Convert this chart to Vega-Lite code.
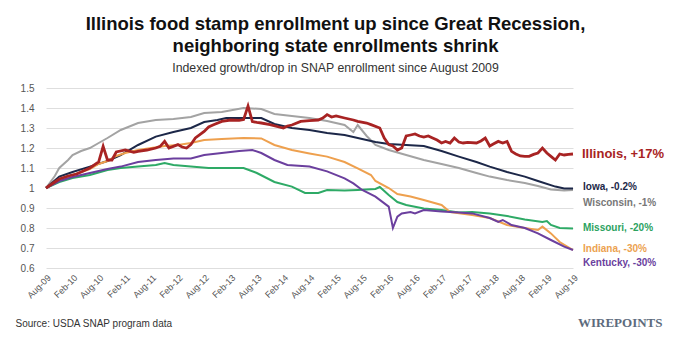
{
"$schema": "https://vega.github.io/schema/vega-lite/v6.json",
"width": 527, "height": 180,
"autosize": {"type": "none"},
"padding": {"left": 46, "top": 88, "right": 101, "bottom": 81},
"background": "white",
"config": {"view": {"stroke": null}, "font": "Liberation Sans"},
"title": {"text": ["Illinois food stamp enrollment up since Great Recession,", "neighboring state enrollments shrink"], "subtitle": "Indexed growth/drop in SNAP enrollment since August 2009", "anchor": "middle", "frame": "group", "dx": 26, "offset": 9, "font": "Liberation Sans", "fontSize": 18.5, "fontWeight": "bold", "lineHeight": 22, "color": "#111111", "subtitleFont": "Liberation Sans", "subtitleFontSize": 12.3, "subtitleColor": "#333333", "subtitlePadding": 6},
"datasets": {
"series": [
{"state":"Wisconsin","date":"2009-08-01","value":1.00},
{"state":"Wisconsin","date":"2009-10-01","value":1.06},
{"state":"Wisconsin","date":"2009-11-01","value":1.10},
{"state":"Wisconsin","date":"2010-01-01","value":1.14},
{"state":"Wisconsin","date":"2010-02-01","value":1.165},
{"state":"Wisconsin","date":"2010-04-01","value":1.185},
{"state":"Wisconsin","date":"2010-06-01","value":1.20},
{"state":"Wisconsin","date":"2010-08-01","value":1.225},
{"state":"Wisconsin","date":"2010-10-01","value":1.25},
{"state":"Wisconsin","date":"2011-01-01","value":1.29},
{"state":"Wisconsin","date":"2011-05-01","value":1.325},
{"state":"Wisconsin","date":"2011-09-01","value":1.34},
{"state":"Wisconsin","date":"2012-01-01","value":1.345},
{"state":"Wisconsin","date":"2012-05-01","value":1.355},
{"state":"Wisconsin","date":"2012-08-01","value":1.375},
{"state":"Wisconsin","date":"2012-12-01","value":1.38},
{"state":"Wisconsin","date":"2013-05-01","value":1.40},
{"state":"Wisconsin","date":"2013-09-01","value":1.395},
{"state":"Wisconsin","date":"2013-12-01","value":1.37},
{"state":"Wisconsin","date":"2014-04-01","value":1.36},
{"state":"Wisconsin","date":"2014-08-01","value":1.35},
{"state":"Wisconsin","date":"2014-12-01","value":1.335},
{"state":"Wisconsin","date":"2015-04-01","value":1.315},
{"state":"Wisconsin","date":"2015-06-01","value":1.28},
{"state":"Wisconsin","date":"2015-07-01","value":1.315},
{"state":"Wisconsin","date":"2015-09-01","value":1.26},
{"state":"Wisconsin","date":"2015-11-01","value":1.215},
{"state":"Wisconsin","date":"2016-02-01","value":1.19},
{"state":"Wisconsin","date":"2016-06-01","value":1.165},
{"state":"Wisconsin","date":"2016-10-01","value":1.14},
{"state":"Wisconsin","date":"2017-02-01","value":1.12},
{"state":"Wisconsin","date":"2017-06-01","value":1.10},
{"state":"Wisconsin","date":"2017-10-01","value":1.075},
{"state":"Wisconsin","date":"2018-01-01","value":1.057},
{"state":"Wisconsin","date":"2018-05-01","value":1.04},
{"state":"Wisconsin","date":"2018-09-01","value":1.025},
{"state":"Wisconsin","date":"2018-12-01","value":1.01},
{"state":"Wisconsin","date":"2019-03-01","value":0.993},
{"state":"Wisconsin","date":"2019-06-01","value":0.988},
{"state":"Wisconsin","date":"2019-08-01","value":0.99},
{"state":"Iowa","date":"2009-08-01","value":1.00},
{"state":"Iowa","date":"2009-11-01","value":1.057},
{"state":"Iowa","date":"2010-02-01","value":1.08},
{"state":"Iowa","date":"2010-06-01","value":1.107},
{"state":"Iowa","date":"2010-10-01","value":1.135},
{"state":"Iowa","date":"2011-01-01","value":1.165},
{"state":"Iowa","date":"2011-05-01","value":1.215},
{"state":"Iowa","date":"2011-09-01","value":1.257},
{"state":"Iowa","date":"2012-01-01","value":1.28},
{"state":"Iowa","date":"2012-05-01","value":1.30},
{"state":"Iowa","date":"2012-08-01","value":1.33},
{"state":"Iowa","date":"2012-11-01","value":1.34},
{"state":"Iowa","date":"2013-01-01","value":1.35},
{"state":"Iowa","date":"2013-05-01","value":1.35},
{"state":"Iowa","date":"2013-09-01","value":1.35},
{"state":"Iowa","date":"2013-12-01","value":1.32},
{"state":"Iowa","date":"2014-04-01","value":1.30},
{"state":"Iowa","date":"2014-08-01","value":1.29},
{"state":"Iowa","date":"2014-12-01","value":1.275},
{"state":"Iowa","date":"2015-04-01","value":1.265},
{"state":"Iowa","date":"2015-08-01","value":1.245},
{"state":"Iowa","date":"2015-11-01","value":1.23},
{"state":"Iowa","date":"2016-02-01","value":1.22},
{"state":"Iowa","date":"2016-06-01","value":1.215},
{"state":"Iowa","date":"2016-10-01","value":1.21},
{"state":"Iowa","date":"2017-02-01","value":1.185},
{"state":"Iowa","date":"2017-06-01","value":1.157},
{"state":"Iowa","date":"2017-10-01","value":1.13},
{"state":"Iowa","date":"2018-01-01","value":1.107},
{"state":"Iowa","date":"2018-05-01","value":1.08},
{"state":"Iowa","date":"2018-09-01","value":1.057},
{"state":"Iowa","date":"2018-12-01","value":1.035},
{"state":"Iowa","date":"2019-04-01","value":1.007},
{"state":"Iowa","date":"2019-06-01","value":0.998},
{"state":"Iowa","date":"2019-08-01","value":0.998},
{"state":"Missouri","date":"2009-08-01","value":1.00},
{"state":"Missouri","date":"2009-11-01","value":1.03},
{"state":"Missouri","date":"2010-02-01","value":1.05},
{"state":"Missouri","date":"2010-06-01","value":1.065},
{"state":"Missouri","date":"2010-10-01","value":1.09},
{"state":"Missouri","date":"2011-01-01","value":1.10},
{"state":"Missouri","date":"2011-05-01","value":1.107},
{"state":"Missouri","date":"2011-09-01","value":1.115},
{"state":"Missouri","date":"2011-11-01","value":1.125},
{"state":"Missouri","date":"2012-01-01","value":1.115},
{"state":"Missouri","date":"2012-05-01","value":1.107},
{"state":"Missouri","date":"2012-09-01","value":1.10},
{"state":"Missouri","date":"2013-01-01","value":1.10},
{"state":"Missouri","date":"2013-05-01","value":1.10},
{"state":"Missouri","date":"2013-08-01","value":1.075},
{"state":"Missouri","date":"2013-12-01","value":1.03},
{"state":"Missouri","date":"2014-04-01","value":1.007},
{"state":"Missouri","date":"2014-07-01","value":0.975},
{"state":"Missouri","date":"2014-10-01","value":0.975},
{"state":"Missouri","date":"2014-12-01","value":0.99},
{"state":"Missouri","date":"2015-04-01","value":0.987},
{"state":"Missouri","date":"2015-07-01","value":0.99},
{"state":"Missouri","date":"2015-11-01","value":0.995},
{"state":"Missouri","date":"2015-12-01","value":1.005},
{"state":"Missouri","date":"2016-02-01","value":0.965},
{"state":"Missouri","date":"2016-04-01","value":0.93},
{"state":"Missouri","date":"2016-06-01","value":0.915},
{"state":"Missouri","date":"2016-10-01","value":0.898},
{"state":"Missouri","date":"2017-02-01","value":0.89},
{"state":"Missouri","date":"2017-06-01","value":0.877},
{"state":"Missouri","date":"2017-09-01","value":0.88},
{"state":"Missouri","date":"2018-01-01","value":0.873},
{"state":"Missouri","date":"2018-05-01","value":0.86},
{"state":"Missouri","date":"2018-09-01","value":0.843},
{"state":"Missouri","date":"2019-01-01","value":0.83},
{"state":"Missouri","date":"2019-02-01","value":0.835},
{"state":"Missouri","date":"2019-03-01","value":0.815},
{"state":"Missouri","date":"2019-05-01","value":0.80},
{"state":"Missouri","date":"2019-08-01","value":0.797},
{"state":"Indiana","date":"2009-08-01","value":1.00},
{"state":"Indiana","date":"2009-11-01","value":1.04},
{"state":"Indiana","date":"2010-02-01","value":1.065},
{"state":"Indiana","date":"2010-06-01","value":1.095},
{"state":"Indiana","date":"2010-08-01","value":1.12},
{"state":"Indiana","date":"2010-10-01","value":1.135},
{"state":"Indiana","date":"2010-12-01","value":1.16},
{"state":"Indiana","date":"2011-02-01","value":1.175},
{"state":"Indiana","date":"2011-05-01","value":1.19},
{"state":"Indiana","date":"2011-08-01","value":1.20},
{"state":"Indiana","date":"2011-11-01","value":1.21},
{"state":"Indiana","date":"2012-02-01","value":1.215},
{"state":"Indiana","date":"2012-05-01","value":1.225},
{"state":"Indiana","date":"2012-08-01","value":1.24},
{"state":"Indiana","date":"2012-12-01","value":1.245},
{"state":"Indiana","date":"2013-05-01","value":1.25},
{"state":"Indiana","date":"2013-09-01","value":1.248},
{"state":"Indiana","date":"2013-12-01","value":1.215},
{"state":"Indiana","date":"2014-04-01","value":1.19},
{"state":"Indiana","date":"2014-08-01","value":1.173},
{"state":"Indiana","date":"2014-12-01","value":1.157},
{"state":"Indiana","date":"2015-04-01","value":1.13},
{"state":"Indiana","date":"2015-07-01","value":1.098},
{"state":"Indiana","date":"2015-10-01","value":1.065},
{"state":"Indiana","date":"2015-11-01","value":1.035},
{"state":"Indiana","date":"2016-02-01","value":1.0},
{"state":"Indiana","date":"2016-04-01","value":0.97},
{"state":"Indiana","date":"2016-07-01","value":0.957},
{"state":"Indiana","date":"2016-10-01","value":0.94},
{"state":"Indiana","date":"2017-02-01","value":0.915},
{"state":"Indiana","date":"2017-04-01","value":0.88},
{"state":"Indiana","date":"2017-09-01","value":0.865},
{"state":"Indiana","date":"2018-01-01","value":0.85},
{"state":"Indiana","date":"2018-05-01","value":0.815},
{"state":"Indiana","date":"2018-09-01","value":0.80},
{"state":"Indiana","date":"2018-12-01","value":0.79},
{"state":"Indiana","date":"2019-01-01","value":0.807},
{"state":"Indiana","date":"2019-03-01","value":0.773},
{"state":"Indiana","date":"2019-05-01","value":0.73},
{"state":"Indiana","date":"2019-08-01","value":0.69},
{"state":"Kentucky","date":"2009-08-01","value":1.00},
{"state":"Kentucky","date":"2009-11-01","value":1.035},
{"state":"Kentucky","date":"2010-02-01","value":1.055},
{"state":"Kentucky","date":"2010-06-01","value":1.075},
{"state":"Kentucky","date":"2010-10-01","value":1.095},
{"state":"Kentucky","date":"2011-01-01","value":1.107},
{"state":"Kentucky","date":"2011-05-01","value":1.13},
{"state":"Kentucky","date":"2011-09-01","value":1.14},
{"state":"Kentucky","date":"2012-01-01","value":1.148},
{"state":"Kentucky","date":"2012-05-01","value":1.148},
{"state":"Kentucky","date":"2012-08-01","value":1.165},
{"state":"Kentucky","date":"2012-12-01","value":1.175},
{"state":"Kentucky","date":"2013-04-01","value":1.185},
{"state":"Kentucky","date":"2013-07-01","value":1.19},
{"state":"Kentucky","date":"2013-09-01","value":1.175},
{"state":"Kentucky","date":"2013-12-01","value":1.14},
{"state":"Kentucky","date":"2014-03-01","value":1.115},
{"state":"Kentucky","date":"2014-08-01","value":1.107},
{"state":"Kentucky","date":"2014-12-01","value":1.083},
{"state":"Kentucky","date":"2015-04-01","value":1.048},
{"state":"Kentucky","date":"2015-06-01","value":1.023},
{"state":"Kentucky","date":"2015-08-01","value":0.99},
{"state":"Kentucky","date":"2015-11-01","value":0.957},
{"state":"Kentucky","date":"2016-02-01","value":0.907},
{"state":"Kentucky","date":"2016-03-01","value":0.80},
{"state":"Kentucky","date":"2016-04-01","value":0.857},
{"state":"Kentucky","date":"2016-05-01","value":0.873},
{"state":"Kentucky","date":"2016-07-01","value":0.88},
{"state":"Kentucky","date":"2016-08-01","value":0.873},
{"state":"Kentucky","date":"2016-10-01","value":0.89},
{"state":"Kentucky","date":"2017-02-01","value":0.883},
{"state":"Kentucky","date":"2017-06-01","value":0.877},
{"state":"Kentucky","date":"2017-09-01","value":0.873},
{"state":"Kentucky","date":"2018-01-01","value":0.85},
{"state":"Kentucky","date":"2018-03-01","value":0.83},
{"state":"Kentucky","date":"2018-04-01","value":0.84},
{"state":"Kentucky","date":"2018-06-01","value":0.815},
{"state":"Kentucky","date":"2018-09-01","value":0.80},
{"state":"Kentucky","date":"2018-12-01","value":0.773},
{"state":"Kentucky","date":"2019-03-01","value":0.74},
{"state":"Kentucky","date":"2019-06-01","value":0.707},
{"state":"Kentucky","date":"2019-08-01","value":0.69},
{"state":"Illinois","date":"2009-08-01","value":1.00},
{"state":"Illinois","date":"2009-10-01","value":1.03},
{"state":"Illinois","date":"2009-11-01","value":1.045},
{"state":"Illinois","date":"2010-01-01","value":1.06},
{"state":"Illinois","date":"2010-03-01","value":1.07},
{"state":"Illinois","date":"2010-04-01","value":1.08},
{"state":"Illinois","date":"2010-06-01","value":1.10},
{"state":"Illinois","date":"2010-08-01","value":1.13},
{"state":"Illinois","date":"2010-09-01","value":1.208},
{"state":"Illinois","date":"2010-10-01","value":1.14},
{"state":"Illinois","date":"2010-11-01","value":1.14},
{"state":"Illinois","date":"2010-12-01","value":1.18},
{"state":"Illinois","date":"2011-02-01","value":1.19},
{"state":"Illinois","date":"2011-04-01","value":1.178},
{"state":"Illinois","date":"2011-05-01","value":1.183},
{"state":"Illinois","date":"2011-07-01","value":1.19},
{"state":"Illinois","date":"2011-09-01","value":1.20},
{"state":"Illinois","date":"2011-10-01","value":1.208},
{"state":"Illinois","date":"2011-11-01","value":1.233},
{"state":"Illinois","date":"2011-12-01","value":1.20},
{"state":"Illinois","date":"2012-02-01","value":1.217},
{"state":"Illinois","date":"2012-03-01","value":1.205},
{"state":"Illinois","date":"2012-04-01","value":1.20},
{"state":"Illinois","date":"2012-05-01","value":1.217},
{"state":"Illinois","date":"2012-06-01","value":1.25},
{"state":"Illinois","date":"2012-08-01","value":1.283},
{"state":"Illinois","date":"2012-09-01","value":1.305},
{"state":"Illinois","date":"2012-10-01","value":1.315},
{"state":"Illinois","date":"2012-12-01","value":1.333},
{"state":"Illinois","date":"2013-02-01","value":1.34},
{"state":"Illinois","date":"2013-04-01","value":1.338},
{"state":"Illinois","date":"2013-05-01","value":1.342},
{"state":"Illinois","date":"2013-06-01","value":1.41},
{"state":"Illinois","date":"2013-07-01","value":1.332},
{"state":"Illinois","date":"2013-08-01","value":1.328},
{"state":"Illinois","date":"2013-09-01","value":1.325},
{"state":"Illinois","date":"2013-11-01","value":1.317},
{"state":"Illinois","date":"2014-01-01","value":1.305},
{"state":"Illinois","date":"2014-02-01","value":1.30},
{"state":"Illinois","date":"2014-03-01","value":1.31},
{"state":"Illinois","date":"2014-04-01","value":1.315},
{"state":"Illinois","date":"2014-06-01","value":1.333},
{"state":"Illinois","date":"2014-08-01","value":1.337},
{"state":"Illinois","date":"2014-10-01","value":1.34},
{"state":"Illinois","date":"2014-11-01","value":1.35},
{"state":"Illinois","date":"2014-12-01","value":1.367},
{"state":"Illinois","date":"2015-01-01","value":1.355},
{"state":"Illinois","date":"2015-02-01","value":1.36},
{"state":"Illinois","date":"2015-04-01","value":1.35},
{"state":"Illinois","date":"2015-06-01","value":1.34},
{"state":"Illinois","date":"2015-07-01","value":1.333},
{"state":"Illinois","date":"2015-09-01","value":1.325},
{"state":"Illinois","date":"2015-10-01","value":1.317},
{"state":"Illinois","date":"2015-12-01","value":1.30},
{"state":"Illinois","date":"2016-01-01","value":1.25},
{"state":"Illinois","date":"2016-02-01","value":1.217},
{"state":"Illinois","date":"2016-03-01","value":1.21},
{"state":"Illinois","date":"2016-04-01","value":1.19},
{"state":"Illinois","date":"2016-05-01","value":1.20},
{"state":"Illinois","date":"2016-06-01","value":1.26},
{"state":"Illinois","date":"2016-07-01","value":1.265},
{"state":"Illinois","date":"2016-08-01","value":1.27},
{"state":"Illinois","date":"2016-09-01","value":1.26},
{"state":"Illinois","date":"2016-10-01","value":1.255},
{"state":"Illinois","date":"2016-11-01","value":1.26},
{"state":"Illinois","date":"2016-12-01","value":1.25},
{"state":"Illinois","date":"2017-01-01","value":1.24},
{"state":"Illinois","date":"2017-02-01","value":1.225},
{"state":"Illinois","date":"2017-03-01","value":1.233},
{"state":"Illinois","date":"2017-04-01","value":1.225},
{"state":"Illinois","date":"2017-05-01","value":1.25},
{"state":"Illinois","date":"2017-06-01","value":1.23},
{"state":"Illinois","date":"2017-07-01","value":1.225},
{"state":"Illinois","date":"2017-08-01","value":1.228},
{"state":"Illinois","date":"2017-10-01","value":1.225},
{"state":"Illinois","date":"2017-11-01","value":1.235},
{"state":"Illinois","date":"2017-12-01","value":1.25},
{"state":"Illinois","date":"2018-01-01","value":1.21},
{"state":"Illinois","date":"2018-02-01","value":1.222},
{"state":"Illinois","date":"2018-03-01","value":1.233},
{"state":"Illinois","date":"2018-04-01","value":1.225},
{"state":"Illinois","date":"2018-05-01","value":1.233},
{"state":"Illinois","date":"2018-06-01","value":1.183},
{"state":"Illinois","date":"2018-07-01","value":1.17},
{"state":"Illinois","date":"2018-08-01","value":1.16},
{"state":"Illinois","date":"2018-09-01","value":1.158},
{"state":"Illinois","date":"2018-10-01","value":1.158},
{"state":"Illinois","date":"2018-11-01","value":1.168},
{"state":"Illinois","date":"2018-12-01","value":1.175},
{"state":"Illinois","date":"2019-01-01","value":1.20},
{"state":"Illinois","date":"2019-02-01","value":1.175},
{"state":"Illinois","date":"2019-03-01","value":1.158},
{"state":"Illinois","date":"2019-04-01","value":1.14},
{"state":"Illinois","date":"2019-05-01","value":1.17},
{"state":"Illinois","date":"2019-06-01","value":1.165},
{"state":"Illinois","date":"2019-07-01","value":1.168},
{"state":"Illinois","date":"2019-08-01","value":1.17}
],
"labels": [
{"state":"Illinois","label":"Illinois, +17%","date":"2019-08-01","value":1.17},
{"state":"Iowa","label":"Iowa, -0.2%","date":"2019-08-01","value":0.998},
{"state":"Wisconsin","label":"Wisconsin, -1%","date":"2019-08-01","value":0.99},
{"state":"Missouri","label":"Missouri, -20%","date":"2019-08-01","value":0.797},
{"state":"Indiana","label":"Indiana, -30%","date":"2019-08-01","value":0.69},
{"state":"Kentucky","label":"Kentucky, -30%","date":"2019-08-01","value":0.69}
]
},
"data": {"name": "series"},
"encoding": {
"x": {"field": "date", "type": "temporal",
"scale": {"type": "utc", "domain": [{"year": 2009, "month": 8, "date": 1, "utc": true}, {"year": 2019, "month": 8, "date": 1, "utc": true}]},
"axis": {"values": [
{"year":2009,"month":8,"date":1,"utc":true},{"year":2010,"month":2,"date":1,"utc":true},{"year":2010,"month":8,"date":1,"utc":true},
{"year":2011,"month":2,"date":1,"utc":true},{"year":2011,"month":8,"date":1,"utc":true},{"year":2012,"month":2,"date":1,"utc":true},
{"year":2012,"month":8,"date":1,"utc":true},{"year":2013,"month":2,"date":1,"utc":true},{"year":2013,"month":8,"date":1,"utc":true},
{"year":2014,"month":2,"date":1,"utc":true},{"year":2014,"month":8,"date":1,"utc":true},{"year":2015,"month":2,"date":1,"utc":true},
{"year":2015,"month":8,"date":1,"utc":true},{"year":2016,"month":2,"date":1,"utc":true},{"year":2016,"month":8,"date":1,"utc":true},
{"year":2017,"month":2,"date":1,"utc":true},{"year":2017,"month":8,"date":1,"utc":true},{"year":2018,"month":2,"date":1,"utc":true},
{"year":2018,"month":8,"date":1,"utc":true},{"year":2019,"month":2,"date":1,"utc":true},{"year":2019,"month":8,"date":1,"utc":true}],
"format": "%b-%y", "labelAngle": -45, "labelOverlap": false, "labelBound": false, "grid": false, "domain": false, "ticks": false,
"labelFontSize": 9, "labelColor": "#555555", "labelPadding": 5, "labelFont": "Liberation Sans",
"title": "Source: USDA SNAP program data", "titleX": -31, "titleY": 55, "titleAlign": "left", "titleAnchor": "start", "titleBaseline": "middle",
"titleFontWeight": "normal", "titleFontSize": 10, "titleColor": "#333333", "titleFont": "Liberation Sans"}},
"y": {"field": "value", "type": "quantitative",
"scale": {"domain": [0.6, 1.5], "nice": false, "zero": false},
"axis": {"values": [0.6, 0.7, 0.8, 0.9, 1.0, 1.1, 1.2, 1.3, 1.4, 1.5], "format": ".1~f", "domain": false, "ticks": false, "labelOverlap": false, "labelBound": false,
"labelFontSize": 10, "labelColor": "#555555", "labelPadding": 12, "gridColor": "#dedede", "gridWidth": 1,
"title": "WIREPOINTS", "titleAngle": 0, "titleX": 616, "titleY": 234, "titleAlign": "right", "titleBaseline": "middle",
"titleFont": "Liberation Serif", "titleFontSize": 13, "titleFontWeight": "bold", "titleColor": "#5d6b7d"}}
},
"resolve": {"scale": {"color": "independent"}},
"layer": [
{
"transform": [{"filter": "datum.state !== 'Illinois'"}],
"mark": {"type": "line", "strokeWidth": 2},
"encoding": {
"color": {"field": "state", "type": "nominal", "legend": null,
"scale": {"domain": ["Wisconsin", "Iowa", "Missouri", "Indiana", "Kentucky"], "range": ["#a3a3a3", "#1c2748", "#2eaa66", "#eea04e", "#6b3f9e"]}}
}
},
{
"transform": [{"filter": "datum.state === 'Illinois'"}],
"mark": {"type": "line", "strokeWidth": 2.8, "color": "#a82323"},
"encoding": {}
},
{
"data": {"name": "labels"},
"transform": [{"filter": "datum.state === 'Illinois'"}],
"mark": {"type": "text", "align": "left", "baseline": "middle", "dx": 9, "fontSize": 13, "fontWeight": "bold", "color": "#a82323"},
"encoding": {
"text": {"field": "label"}
}
},
{
"data": {"name": "labels"},
"transform": [{"filter": "datum.state === 'Iowa' || datum.state === 'Missouri' || datum.state === 'Indiana'"}],
"mark": {"type": "text", "align": "left", "baseline": "middle", "dx": 10, "dy": -1, "fontSize": 10, "fontWeight": "bold"},
"encoding": {
"text": {"field": "label"},
"color": {"field": "state", "type": "nominal", "legend": null,
"scale": {"domain": ["Iowa", "Missouri", "Indiana"], "range": ["#1c2748", "#2ca25f", "#eca250"]}}
}
},
{
"data": {"name": "labels"},
"transform": [{"filter": "datum.state === 'Wisconsin' || datum.state === 'Kentucky'"}],
"mark": {"type": "text", "align": "left", "baseline": "middle", "dx": 10, "dy": 13, "fontSize": 10, "fontWeight": "bold"},
"encoding": {
"text": {"field": "label"},
"color": {"field": "state", "type": "nominal", "legend": null,
"scale": {"domain": ["Wisconsin", "Kentucky"], "range": ["#777777", "#6b3f9e"]}}
}
}
]
}
